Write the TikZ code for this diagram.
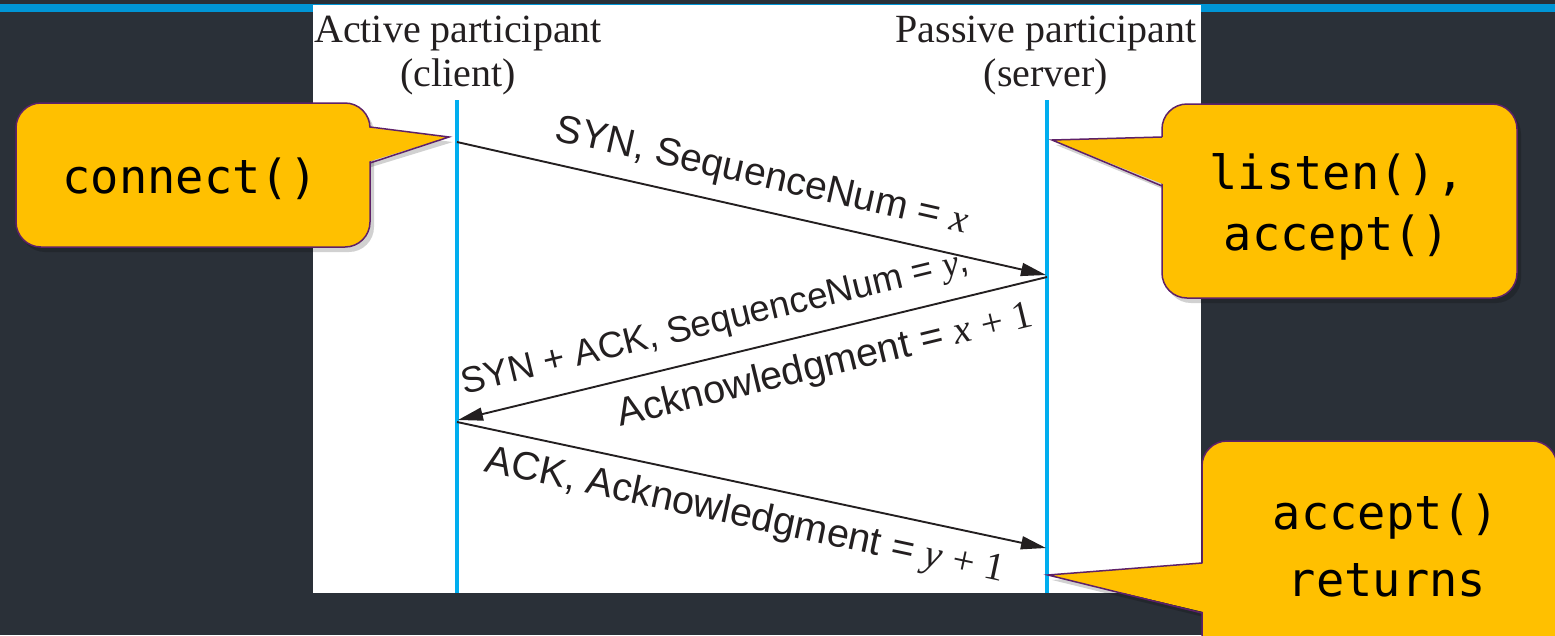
\documentclass[tikz,border=0pt]{standalone}
\usepackage{fontspec}
\usetikzlibrary{arrows.meta,calc}
\newfontfamily\labelfont{Liberation Sans}
\newfontfamily\varfont{Liberation Serif}
\newfontfamily\headfont{Liberation Serif}
\newfontfamily\codefont{DejaVu Sans Mono}
\definecolor{slate}{HTML}{2A3038}
\definecolor{barblue}{HTML}{0095D6}
\definecolor{lifeblue}{HTML}{00AEEF}
\definecolor{ink}{HTML}{231F20}
\definecolor{calloutyellow}{HTML}{FFC000}
\definecolor{calloutpurple}{HTML}{5E2168}
% italic serif variables and serif "+ 1"
\newcommand{\vx}{{\varfont\itshape x}}
\newcommand{\vy}{{\varfont\itshape y}}
\newcommand{\plusone}{{\varfont + 1}}
\newcommand{\lblsize}[1]{\fontsize{#1}{#1}\selectfont}

\begin{document}
\begin{tikzpicture}[x=1pt, y=-1pt,
  lifeline/.style={draw=lifeblue, line width=3.5pt},
  msg/.style={draw=ink, line width=1.9pt, -{Triangle[length=25pt, width=13pt]}},
  lbl/.style={font=\labelfont, text=ink, sloped},
  head/.style={font=\headfont\fontsize{40}{44}\selectfont, text=ink, anchor=base, inner sep=0pt},
  callbox/.style={rectangle, rounded corners=25pt, fill=calloutyellow,
    draw=calloutpurple, line width=1.5pt, inner sep=0pt, outer sep=0pt},
  calltip/.style={fill=calloutyellow},
  calledge/.style={draw=calloutpurple, line width=1.5pt, line join=miter},
  callshade/.style={fill=black, opacity=0.18},
  code/.style={font=\codefont\fontsize{47}{50}\selectfont, text=black, anchor=base, inner sep=0pt},
]
\useasboundingbox (0,0) rectangle (1555,635);
\clip (0,0) rectangle (1555,635);

% slide background and title rule
\fill[slate] (0,0) rectangle (1555,635);
\fill[barblue] (0,4) rectangle (1555,12);

% white figure panel
\fill[white] (313,5) rectangle (1201,593);

% participants
\node[head] (act) at (458,42) {Active participant};
\node[head] (actsub) at (458,86) {(client)};
\node[head] (pas) at (1046,42) {Passive participant};
\node[head] (passub) at (1046,86) {(server)};

% lifelines
\coordinate (ctop) at (457,100);
\coordinate (cbot) at (457,593);
\coordinate (stop) at (1047,100);
\coordinate (sbot) at (1047,593);
\draw[lifeline] (ctop) -- (cbot);
\draw[lifeline] (stop) -- (sbot);

% message end points
\coordinate (c1) at (457,142);
\coordinate (s1) at (1046,275);
\coordinate (s2) at (1047,277);
\coordinate (c2) at (458,420);
\coordinate (c3) at (457,422);
\coordinate (s3) at (1046,548);

% handshake messages
\draw[msg] (c1) -- node[lbl, above, pos=0.505, inner sep=14pt] (m1) {\lblsize{39}SYN, SequenceNum = \vx} (s1);
\draw[msg] (s2) --
  node[lbl, above, pos=0.55, inner sep=15pt] (m2a) {\lblsize{36.5}SYN + ACK, SequenceNum = \vy,}
  node[lbl, below, pos=0.39, inner sep=15pt] (m2b) {\lblsize{39.5}Acknowledgment = \vx\ \plusone}
  (c2);
\draw[msg] (c3) -- node[lbl, below, pos=0.50, inner sep=13pt] (m3) {\lblsize{39.5}ACK, Acknowledgment = \vy\ \plusone} (s3);

% callout: connect()
\coordinate (tip1) at (449,137);
\fill[callshade, rounded corners=25pt] (20,108) rectangle (374,252);
\fill[callshade] (368,132) -- ($(tip1)+(4,5)$) -- (368,168) -- cycle;
\node[callbox, minimum width=354pt, minimum height=144pt] (box1) at (193,175) {};
\fill[calltip] (364,127) -- (tip1) -- (364,163) -- cycle;
\draw[calledge] (370,127) -- (tip1) -- (370,163);
\node[code] (t1) at (190,193) {connect()};

% callout: listen(), accept()
\coordinate (tip2) at (1052,140);
\fill[callshade, rounded corners=25pt] (1166,109) rectangle (1521,303);
\fill[callshade] (1168,142) -- ($(tip2)+(4,5)$) -- (1168,191) -- cycle;
\node[callbox, minimum width=355pt, minimum height=194pt] (box2) at (1339.5,201) {};
\fill[calltip] (1168,137) -- (tip2) -- (1168,186) -- cycle;
\draw[calledge] (1162,137) -- (tip2) -- (1162,186);
\node[code] (t2a) at (1337,189) {listen(),};
\node[code] (t2b) at (1337,250) {accept()};

% callout: accept() returns
\coordinate (tip3) at (1048,575);
\fill[callshade, rounded corners=25pt] (1206,446) rectangle (1561,705);
\fill[callshade] (1208,568) -- ($(tip3)+(4,5)$) -- (1208,618) -- cycle;
\node[callbox, minimum width=355pt, minimum height=259pt] (box3) at (1379.5,570.5) {};
\fill[calltip] (1208,563) -- (tip3) -- (1208,613) -- cycle;
\draw[calledge] (1202,563) -- (tip3) -- (1202,613);
\node[code] (t3a) at (1386,529) {accept()};
\node[code] (t3b) at (1387,596) {returns};
\end{tikzpicture}
\end{document}
